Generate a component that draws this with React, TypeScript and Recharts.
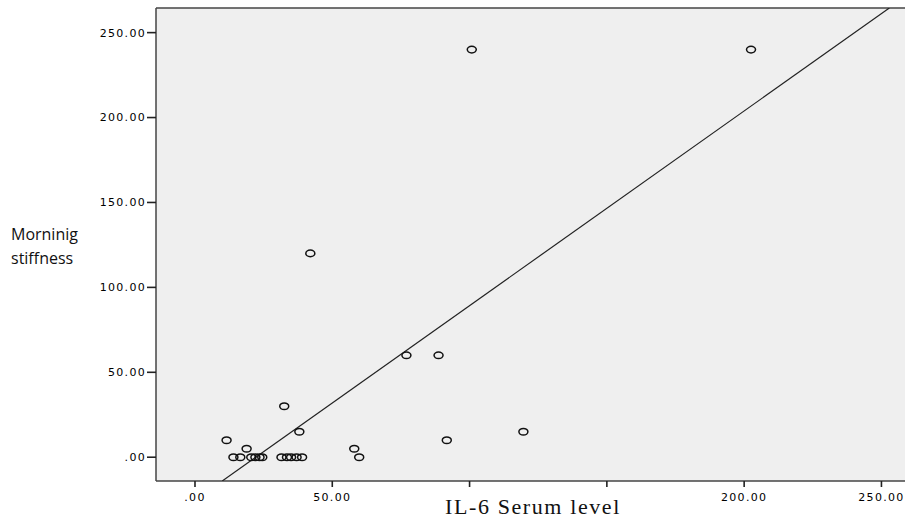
import { ScatterChart, Scatter, XAxis, YAxis, CartesianGrid, ReferenceLine } from 'recharts'

// IL-6 serum level (x) and morning stiffness (y), one entry per patient
const il6 = [11.5, 18.8, 14, 16.5, 20.5, 22, 23.5, 24.5, 31.5, 33.5, 35, 37, 39, 32.5, 38, 42, 58, 59.8, 77, 88.7, 91.7, 119.6, 100.8, 202.5]
const stiffness = [10, 5, 0, 0, 0, 0, 0, 0, 0, 0, 0, 0, 0, 30, 15, 120, 5, 0, 60, 60, 10, 15, 240, 240]

const xTicks = [0, 50, 100, 150, 200, 250]
const yTicks = [0, 50, 100, 150, 200, 250]
// the 100 and 150 labels are hidden under the axis title in the original
const xTickLabels = ['.00', '50.00', '', '', '200.00', '250.00']
const yTickLabels = ['.00', '50.00', '100.00', '150.00', '200.00', '250.00']

const X_DOMAIN: [number, number] = [-14.2, 260.4]
const Y_DOMAIN: [number, number] = [-14, 264.5]

const points = il6.map((x, i) => ({ x, y: stiffness[i] }))

// ordinary least squares fit line, clipped to the plot box
function fitLine() {
    const n = points.length
    const mx = points.reduce((s, p) => s + p.x, 0) / n
    const my = points.reduce((s, p) => s + p.y, 0) / n
    let sxy = 0
    let sxx = 0
    points.forEach((p) => {
        sxy += (p.x - mx) * (p.y - my)
        sxx += (p.x - mx) * (p.x - mx)
    })
    const b = sxy / sxx
    const a = my - b * mx
    const clip = (x: number) => {
        let y = a + b * x
        if (y < Y_DOMAIN[0]) { y = Y_DOMAIN[0]; x = (y - a) / b }
        if (y > Y_DOMAIN[1]) { y = Y_DOMAIN[1]; x = (y - a) / b }
        return { x, y }
    }
    return [clip(X_DOMAIN[0]), clip(X_DOMAIN[1])]
}

const tickStyle = { fontFamily: 'DejaVu Sans', fontSize: 11, fill: '#000', letterSpacing: 1.3 }

const Ring = (props: any) => (
    <ellipse cx={props.cx} cy={props.cy} rx={4.5} ry={3.3} fill="none" stroke="#111" strokeWidth={1.5} />
)

export default function App() {
    return (
        <div style={{ position: 'absolute', left: 0, top: 0, width: 905, height: 519, overflow: 'hidden', background: '#fff' }}>
            <ScatterChart width={920} height={519} margin={{ top: 8, right: 10, bottom: 0, left: 0 }}>
                <CartesianGrid horizontal={false} vertical={false} fill="#efefef" />
                <XAxis
                    type="number"
                    dataKey="x"
                    domain={X_DOMAIN}
                    ticks={xTicks}
                    allowDataOverflow
                    height={38}
                    tickSize={6}
                    tickMargin={6}
                    tick={tickStyle}
                    tickFormatter={(v) => xTickLabels[xTicks.indexOf(v)] ?? ''}
                    axisLine={{ stroke: '#444', strokeWidth: 1.5 }}
                    tickLine={{ stroke: '#222', strokeWidth: 1.6 }}
                    label={{
                        value: 'IL-6 Serum level',
                        position: 'insideBottom',
                        offset: 5,
                        fontFamily: 'Liberation Serif',
                        fontSize: 22,
                        letterSpacing: 1.6,
                        fill: '#111',
                    }}
                />
                <YAxis
                    type="number"
                    dataKey="y"
                    domain={Y_DOMAIN}
                    ticks={yTicks}
                    allowDataOverflow
                    width={156}
                    tickSize={9}
                    tickMargin={1}
                    tick={tickStyle}
                    tickFormatter={(v) => yTickLabels[yTicks.indexOf(v)] ?? ''}
                    axisLine={{ stroke: '#444', strokeWidth: 1.5 }}
                    tickLine={{ stroke: '#222', strokeWidth: 1.6 }}
                    label={{
                        content: () => (
                            <text fontFamily="Open Sans" fontSize={16} fill="#111">
                                <tspan x={11} y={240}>Morninig</tspan>
                                <tspan x={11} y={264}>stiffness</tspan>
                            </text>
                        ),
                    }}
                />
                <ReferenceLine y={Y_DOMAIN[1]} stroke="#444" strokeWidth={1.5} />
                <Scatter
                    data={fitLine()}
                    line={{ stroke: '#222', strokeWidth: 1.2 }}
                    shape={() => <g />}
                    isAnimationActive={false}
                />
                <Scatter data={points} shape={Ring} isAnimationActive={false} />
            </ScatterChart>
        </div>
    )
}
